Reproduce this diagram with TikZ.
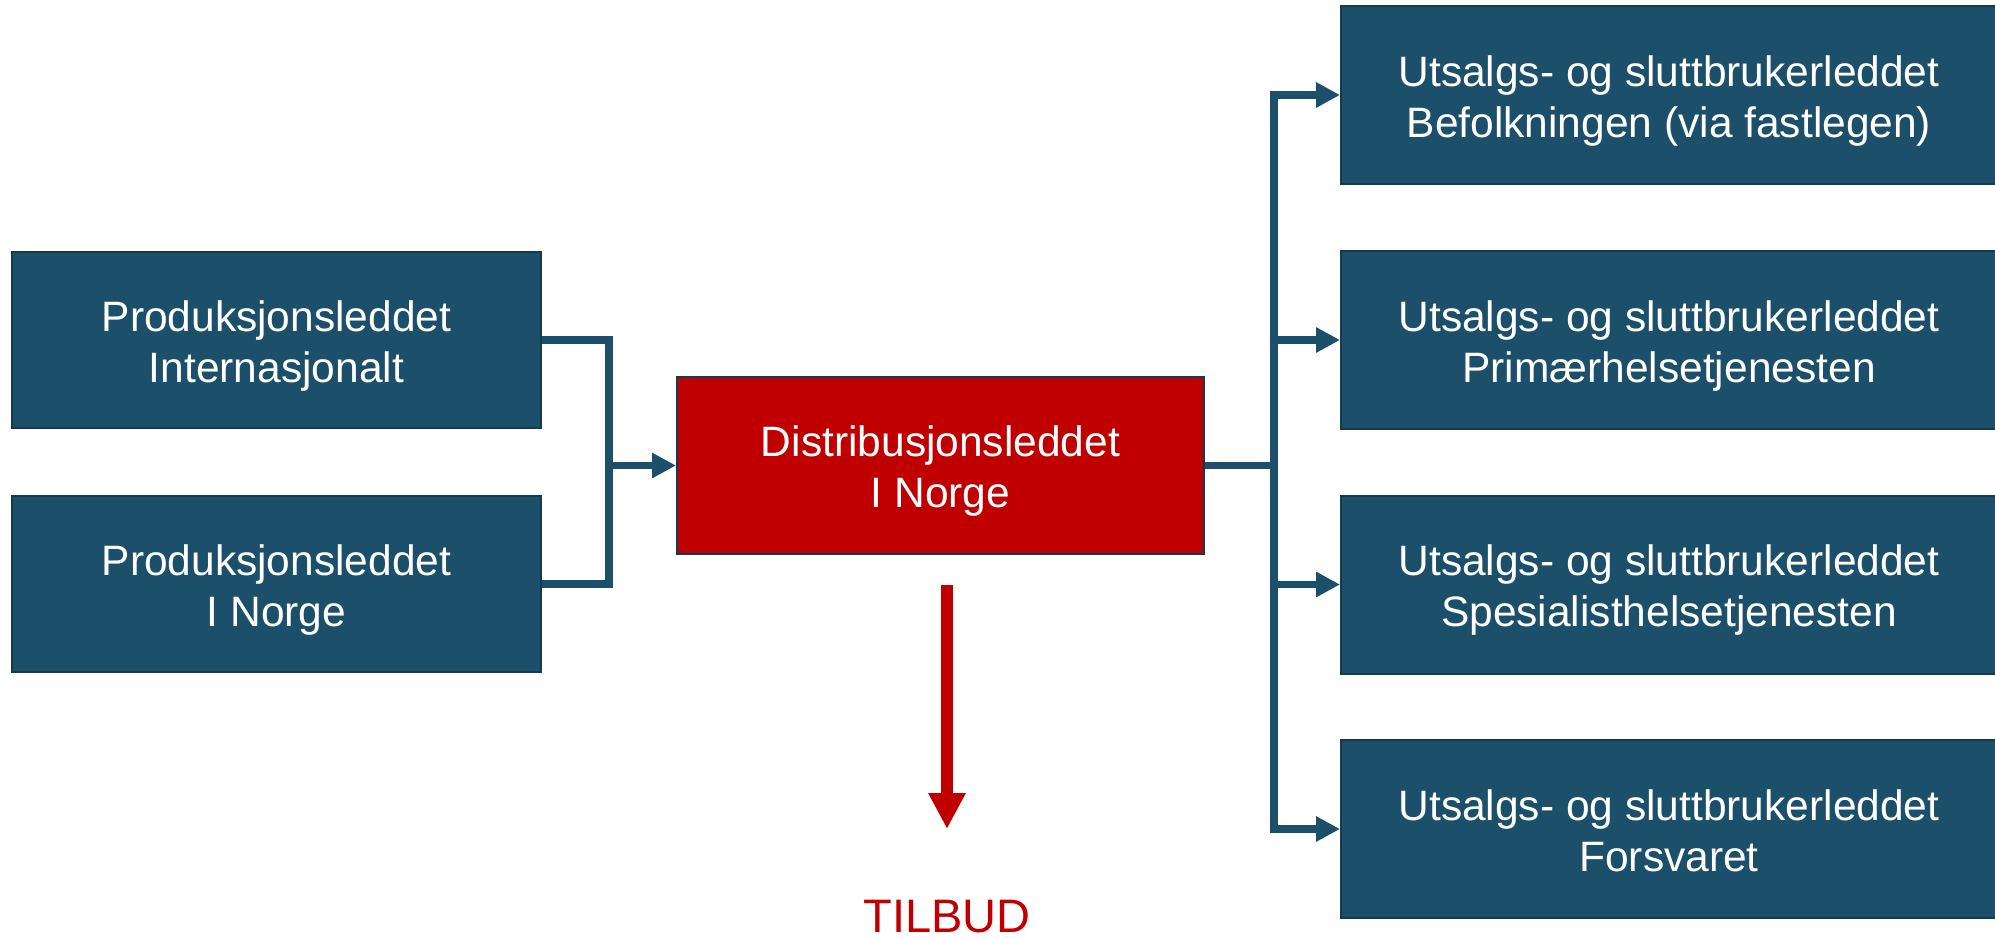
\documentclass[tikz,border=0pt]{standalone}
\usepackage{fontspec}
\setmainfont{Liberation Sans}
\usetikzlibrary{arrows.meta}
\definecolor{boxblue}{RGB}{28,80,106}
\definecolor{boxline}{RGB}{20,58,78}
\definecolor{boxred}{RGB}{192,0,0}
\newcommand\bxtop{\rule{0pt}{21.5pt}}
\newcommand\bxbot{\rule[-5pt]{0pt}{5pt}}
\newcommand\twolines[2]{\bxtop#1\\#2\bxbot}
\begin{document}
\begin{tikzpicture}[x=0.5pt,y=-0.5pt,
  box/.style={draw=boxline, line width=1pt, fill=boxblue, text=white, inner sep=0pt,
    align=center, font=\fontsize{21.25pt}{25.5pt}\selectfont},
  leftbox/.style={box, minimum width=264.5pt, minimum height=88pt},
  rightbox/.style={box, minimum width=328pt, minimum height=89pt},
  conn/.style={draw=boxblue, line width=3.75pt, line join=miter},
  tipb/.style={-{Triangle[length=12pt,width=12pt]}},
  tipbb/.style={{Triangle[length=12pt,width=12pt]}-{Triangle[length=12pt,width=12pt]}},
  redarr/.style={draw=boxred, line width=5.8pt, -{Triangle[length=18pt,width=17.5pt]}}
]
\useasboundingbox (0,0) rectangle (1995,938);

\node[leftbox] (l1) at (276.5,340) {\twolines{Produksjonsleddet}{Internasjonalt}};
\node[leftbox] (l2) at (276.5,584) {\twolines{Produksjonsleddet}{I Norge}};
\node[box, fill=boxred, minimum width=263.5pt, minimum height=88.5pt] (c) at (940.5,465.5) {\twolines{Distribusjonsleddet}{I Norge}};

\node[rightbox] (r1) at (1669,95) {\twolines{Utsalgs- og sluttbrukerleddet}{Befolkningen (via fastlegen)}};
\node[rightbox] (r2) at (1669,340) {\twolines{Utsalgs- og sluttbrukerleddet}{Primærhelsetjenesten}};
\node[rightbox] (r3) at (1669,584.5) {\twolines{Utsalgs- og sluttbrukerleddet}{Spesialisthelsetjenesten}};
\node[rightbox] (r4) at (1669,829) {\twolines{Utsalgs- og sluttbrukerleddet}{Forsvaret}};

\coordinate (jl) at (609,465.5);
\coordinate (jr) at (1274,465.5);

\draw[conn] (l1.east) -- (jl |- l1.east) -- (jl |- l2.east) -- (l2.east);
\draw[conn, tipb] (jl) -- (c.west);

\draw[conn] (c.east) -- (jr);
\draw[conn, tipbb] (r1.west) -- (jr |- r1.west) -- (jr |- r4.west) -- (r4.west);
\draw[conn, tipb] (jr |- r2.west) -- (r2.west);
\draw[conn, tipb] (jr |- r3.west) -- (r3.west);

\coordinate (ra) at (947,585);
\coordinate (rb) at (947,829);
\draw[redarr] (ra) -- (rb);

\node[font=\fontsize{23.5pt}{28pt}\selectfont, text=boxred, anchor=base, inner sep=0pt] (tilbud) at (947,932) {TILBUD};
\end{tikzpicture}
\end{document}
